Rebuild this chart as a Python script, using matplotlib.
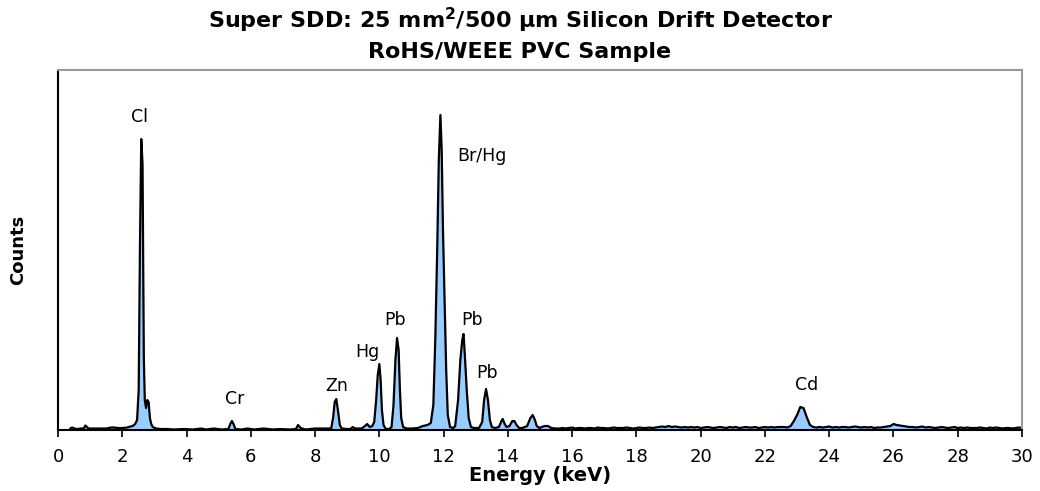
import matplotlib.pyplot as plt
import numpy as np

plt.rcParams['font.family'] = ['DejaVu Sans']

# spectrum, low energy part incl. main peaks (keV, counts in arbitrary units)
energy_peaks = [0.35, 0.4, 0.45, 0.5, 0.6, 0.7, 0.8, 0.85, 0.9, 0.95, 1.1, 1.3, 1.5, 1.65, 1.75, 1.85,
                2.0, 2.15, 2.25, 2.32, 2.4, 2.46, 2.51, 2.55, 2.59, 2.63, 2.67, 2.70, 2.74, 2.78, 2.82,
                2.86, 2.9, 2.95, 3.05, 3.2, 3.4, 3.6, 3.9, 4.2, 4.45, 4.6, 4.85, 5.1,
                5.3, 5.36, 5.41, 5.46, 5.52, 5.7, 5.9, 6.1, 6.4, 6.7, 6.9, 7.2,
                7.4, 7.47, 7.55, 7.7, 8.0, 8.3,
                8.5, 8.56, 8.61, 8.66, 8.71, 8.77, 8.83, 9.0,
                9.1, 9.17, 9.25, 9.45, 9.55, 9.62, 9.7, 9.78,
                9.84, 9.9, 9.95, 10.0, 10.04, 10.08, 10.13, 10.2, 10.3,
                10.38, 10.44, 10.5, 10.55, 10.6, 10.64, 10.68, 10.74, 10.85, 11.0, 11.2, 11.35, 11.5, 11.6,
                11.68, 11.74, 11.8, 11.85, 11.9, 11.94, 11.98, 12.03, 12.08, 12.13, 12.2, 12.3,
                12.36, 12.45, 12.52, 12.58, 12.62, 12.66, 12.72, 12.78, 12.85, 12.95, 13.1,
                13.2, 13.26, 13.32, 13.38, 13.44, 13.5, 13.6, 13.72, 13.8, 13.84, 13.9, 13.96,
                14.05, 14.14, 14.2, 14.27, 14.35, 14.45, 14.6, 14.7, 14.77, 14.83, 14.9, 14.98,
                15.05, 15.15, 15.25, 15.35, 15.5]
counts_peaks = [0, 2, 2.5, 1.5, 1, 1.5, 1.5, 4.5, 3, 1.5, 1.5, 1.5, 1.5, 2.5, 2.5, 2,
                2, 2.5, 3.5, 4, 6, 10, 40, 185, 291, 266, 73, 30, 22, 30, 28,
                12, 6, 3, 1.5, 1, 1, 0.5, 1, 0.5, 1.5, 0.5, 1.5, 0.5,
                1, 6, 9, 6, 1, 0.5, 1.5, 0.5, 1.5, 0.5, 1, 0.5,
                1, 5, 2, 0.5, 1.5, 1.5,
                1.5, 12, 28, 31, 20, 5, 1.5, 1,
                1, 3, 1.5, 1.5, 4, 6, 3, 4,
                8, 30, 55, 66, 50, 20, 5, 1, 1,
                3, 25, 70, 92, 80, 40, 12, 3, 1.5, 1.5, 2, 4, 5, 7,
                25, 90, 180, 270, 315, 280, 200, 130, 60, 15, 3, 2,
                4, 30, 70, 90, 96, 75, 40, 12, 3, 2, 2,
                8, 30, 41, 30, 10, 3, 2, 3, 9, 11, 6, 3,
                4, 9, 9, 5, 2, 2, 4, 12, 15, 11, 4, 2,
                3, 4, 4, 2, 1.5]

# high energy tail, 0.1 keV steps from 15.6 to 30.0 keV
counts_tail = [1.5, 2, 1.5, 2, 2.5, 1.5, 2, 2, 1.5, 2,
               2, 1.5, 2.5, 2, 2, 1.5, 2, 2.5, 2, 2,
               2, 2.5, 2, 1.5, 2, 2.5, 2, 2, 2.5, 2,
               2.5, 3, 3.5, 3, 4, 3, 3.5, 3, 2.5, 3,
               2.5, 3, 2.5, 3, 2, 2.5, 3, 2.5, 2, 2.5,
               3, 2.5, 2, 3, 2.5, 3, 2, 2.5, 3, 2.5,
               2.5, 3, 2, 2.5, 3, 2.5, 3, 2.5, 3, 3,
               3, 2.5, 4, 9, 15, 23, 22, 13, 5, 3,
               2.5, 3, 2.5, 3, 3.5, 2.5, 3, 2.5, 3, 3,
               2.5, 3, 3.5, 3, 2.5, 3, 2.5, 3, 2, 2.5,
               2.5, 3, 3.5, 4, 6, 5, 4.5, 4, 3.5, 3,
               3, 2.5, 3, 3.5, 2.5, 3, 2.5, 2, 2.5, 3,
               2.5, 2, 2.5, 3, 2, 2.5, 2, 2.5, 2, 2,
               2, 2.5, 2, 1.5, 2.5, 2, 2.5, 2, 1.5, 2,
               2, 1.5, 2, 2.5, 2]
energy_tail = np.linspace(15.6, 30.0, len(counts_tail))

peak_labels = ['Cl', 'Cr', 'Zn', 'Hg', 'Pb', 'Br/Hg', 'Pb', 'Pb', 'Cd']
label_x = [2.52, 5.51, 8.68, 9.62, 10.49, 12.42, 12.88, 13.35, 23.31]
label_y = [313, 31, 44, 78, 110, 274, 110, 57, 45]
label_ha = ['center', 'center', 'center', 'center', 'center', 'left', 'center', 'center', 'center']

energy = np.concatenate([energy_peaks, energy_tail])
counts = np.concatenate([counts_peaks, counts_tail])

fig = plt.figure(figsize=(10.4, 4.91), dpi=100)
ax = fig.add_axes([0.0558, 0.1242, 0.9269, 0.7332])

ax.fill_between(energy, counts, 0, color='#99ccff', lw=0)
ax.plot(energy, counts, color='black', lw=1.6)

for t, x, y, ha in zip(peak_labels, label_x, label_y, label_ha):
    ax.text(x, y, t, ha=ha, va='center', fontsize=12.5)

ax.set_xlim(0, 30)
ax.set_ylim(0, 360)
ax.set_xticks(np.arange(0, 31, 2))
ax.set_yticks([])
ax.tick_params(axis='x', direction='out', length=5, width=1.2, labelsize=13, pad=8)

for s in ['left', 'bottom']:
    ax.spines[s].set_color('black')
    ax.spines[s].set_linewidth(1.5)
for s in ['top', 'right']:
    ax.spines[s].set_color('#999999')
    ax.spines[s].set_linewidth(1.5)

ax.set_xlabel('Energy (keV)', fontsize=14, fontweight='bold', labelpad=0)
ax.set_ylabel('Counts', fontsize=13, fontweight='bold', labelpad=22)

fig.text(0.5, 0.958, 'Super SDD: 25 mm$^\\mathbf{2}$/500 \u00b5m Silicon Drift Detector',
         ha='center', va='center', fontsize=16, fontweight='bold')
fig.text(0.5, 0.895, 'RoHS/WEEE PVC Sample', ha='center', va='center', fontsize=16, fontweight='bold')

fig.savefig('out.png', dpi=100)
